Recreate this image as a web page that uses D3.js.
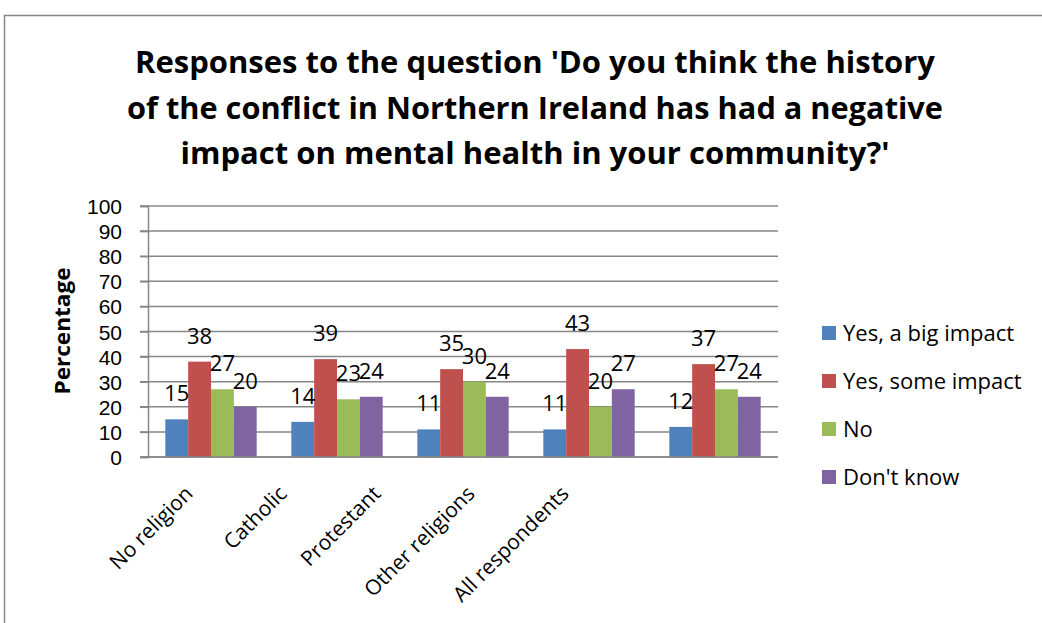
<!DOCTYPE html>
<html>
<head>
<meta charset="utf-8">
<script src="https://cdn.jsdelivr.net/npm/d3@7"></script>
<style>
  body { margin: 0; background: #fff; }
  text { font-family: "Open Sans", "Noto Sans", sans-serif; fill: #000; }
</style>
</head>
<body>
<div id="chart"></div>
<script>
// chart values
var categories = ["No religion", "Catholic", "Protestant", "Other religions", "All respondents"];
var seriesNames = ["Yes, a big impact", "Yes, some impact", "No", "Don't know"];
var bigImpact = [15, 14, 11, 11, 12];
var someImpact = [38, 39, 35, 43, 37];
var noImpact = [27, 23, 30, 20, 27];
var dontKnow = [20, 24, 24, 27, 24];
var yTicks = [0, 10, 20, 30, 40, 50, 60, 70, 80, 90, 100];
var titleLines = [
  "Responses to the question 'Do you think the history",
  "of the conflict in Northern Ireland has had a negative",
  "impact on mental health in your community?'"
];

var seriesValues = [bigImpact, someImpact, noImpact, dontKnow];
var colors = ["#4F81BD", "#C0504D", "#9BBB59", "#8064A2"];

var width = 1042, height = 623;

var svg = d3.select("#chart")
  .append("svg")
  .attr("width", width)
  .attr("height", height);

// outer chart border (only top and left are in view)
svg.append("rect")
  .attr("x", 4.5).attr("y", 15.5)
  .attr("width", 1200).attr("height", 800)
  .attr("fill", "none")
  .attr("stroke", "#868686")
  .attr("stroke-width", 1.5);

// title
var titleWidths = [800, 816, 709];
svg.append("g").selectAll("text")
  .data(titleLines)
  .enter().append("text")
  .attr("x", 535)
  .attr("y", function (d, i) { return 73 + i * 45.5; })
  .attr("text-anchor", "middle")
  .attr("font-size", 30)
  .attr("font-weight", "bold")
  .attr("textLength", function (d, i) { return titleWidths[i]; })
  .attr("lengthAdjust", "spacingAndGlyphs")
  .text(function (d) { return d; });

// scales
var x0 = d3.scaleBand()
  .domain(categories)
  .range([148, 778])
  .paddingInner(0.275)
  .paddingOuter(0.1375);

var x1 = d3.scaleBand()
  .domain(d3.range(seriesNames.length))
  .range([0, x0.bandwidth()]);

var y = d3.scaleLinear()
  .domain([0, 100])
  .range([457, 206]);

// gridlines
svg.append("g").selectAll("line")
  .data(yTicks)
  .enter().append("line")
  .attr("x1", 140).attr("x2", 778)
  .attr("y1", function (d) { return y(d); })
  .attr("y2", function (d) { return y(d); })
  .attr("stroke", "#868686")
  .attr("stroke-width", 1.5);

// y axis
var yAxis = svg.append("g")
  .attr("transform", "translate(148,0)")
  .call(d3.axisLeft(y).tickValues(yTicks).tickSize(8).tickPadding(18));
yAxis.select(".domain").attr("stroke", "#868686").attr("stroke-width", 1.5);
yAxis.selectAll(".tick line").attr("stroke", "#868686").attr("stroke-width", 1.5);
yAxis.selectAll(".tick text")
  .attr("font-size", 21)
  .style("font-family", "'Liberation Sans', Arial, sans-serif")
  .attr("fill", "#000")
  .attr("dy", "0.36em");

// y label
svg.append("text")
  .attr("transform", "translate(70,331) rotate(-90)")
  .attr("text-anchor", "middle")
  .attr("font-size", 21)
  .attr("font-weight", "bold")
  .attr("textLength", 127)
  .attr("lengthAdjust", "spacingAndGlyphs")
  .text("Percentage");

// bars
var groups = svg.append("g").selectAll("g")
  .data(categories)
  .enter().append("g")
  .attr("transform", function (d) { return "translate(" + x0(d) + ",0)"; });

groups.selectAll("rect")
  .data(function (d, ci) {
    return seriesValues.map(function (vals, si) { return { s: si, v: vals[ci] }; });
  })
  .enter().append("rect")
  .attr("x", function (d) { return x1(d.s); })
  .attr("width", x1.bandwidth())
  .attr("y", function (d) { return y(d.v); })
  .attr("height", function (d) { return y(0) - y(d.v); })
  .attr("fill", function (d) { return colors[d.s]; });

// data labels
groups.selectAll("text")
  .data(function (d, ci) {
    return seriesValues.map(function (vals, si) { return { s: si, v: vals[ci] }; });
  })
  .enter().append("text")
  .attr("x", function (d) { return x1(d.s) + x1.bandwidth() / 2; })
  .attr("y", function (d) { return y(d.v) - 18; })
  .attr("text-anchor", "middle")
  .attr("font-size", 22)
  .text(function (d) { return d.v; });

// bottom axis line
svg.append("line")
  .attr("x1", 140).attr("x2", 778)
  .attr("y1", y(0)).attr("y2", y(0))
  .attr("stroke", "#868686")
  .attr("stroke-width", 1.5);

// category labels (rotated)
var xLabel = d3.scalePoint()
  .domain(categories)
  .range([194, 570]);

svg.append("g").selectAll("text")
  .data(categories)
  .enter().append("text")
  .attr("transform", function (d) { return "translate(" + xLabel(d) + ",495) rotate(-45)"; })
  .attr("text-anchor", "end")
  .attr("font-size", 21)
  .text(function (d) { return d; });

// legend
var legend = svg.append("g").selectAll("g")
  .data(seriesNames)
  .enter().append("g")
  .attr("transform", function (d, i) { return "translate(822," + (333 + i * 48) + ")"; });

legend.append("rect")
  .attr("x", 0).attr("y", -7)
  .attr("width", 14).attr("height", 14)
  .attr("fill", function (d, i) { return colors[i]; });

legend.append("text")
  .attr("x", 21)
  .attr("y", 0)
  .attr("dy", "0.36em")
  .attr("font-size", 22)
  .text(function (d) { return d; });
</script>
</body>
</html>
